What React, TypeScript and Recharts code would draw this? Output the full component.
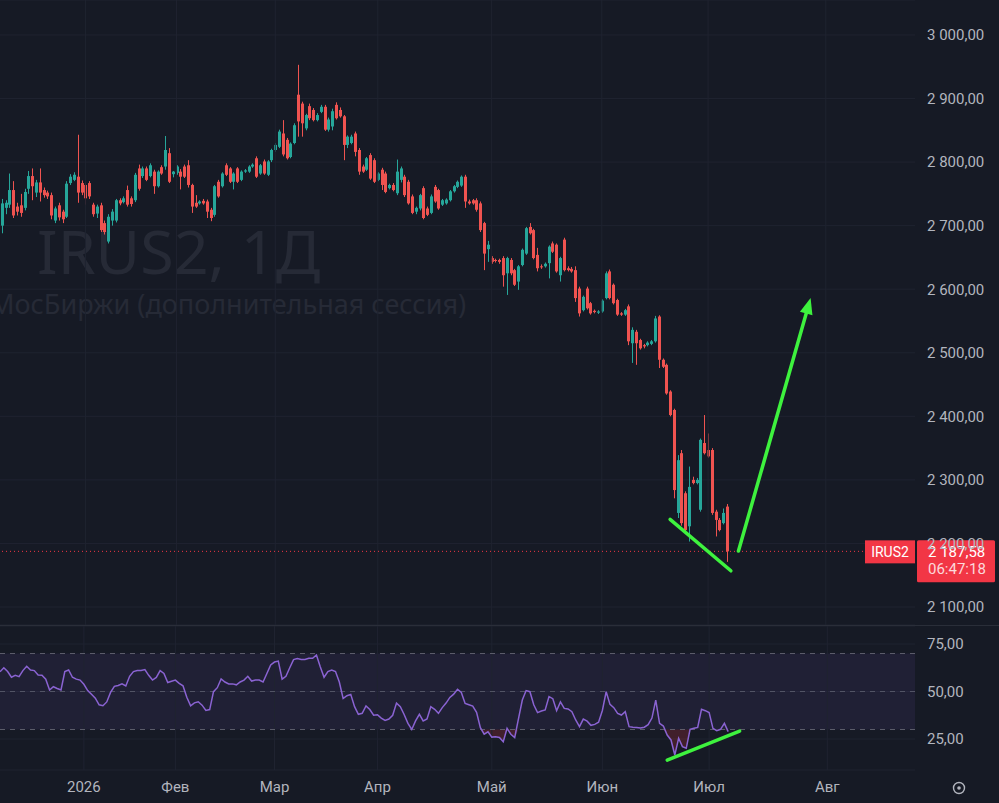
import React from 'react';
import {
  ComposedChart, Bar, Line, Area, XAxis, YAxis, CartesianGrid, ReferenceLine, ReferenceArea,
} from 'recharts';

// IRUS2 1Д, дневные свечи (янв–июл 2026)
const OPEN = [
  2700, 2728, 2733, 2756, 2730, 2732, 2728, 2758, 2778, 2752,
  2768, 2756, 2752, 2748, 2708, 2732, 2722, 2714, 2767, 2772,
  2777, 2767, 2764, 2767, 2733, 2719, 2732, 2704, 2675, 2708,
  2708, 2740, 2737, 2756, 2743, 2740, 2790, 2778, 2790, 2778,
  2785, 2762, 2792, 2793, 2814, 2781, 2783, 2785, 2793, 2795,
  2764, 2736, 2735, 2739, 2738, 2725, 2717, 2769, 2762, 2795,
  2790, 2769, 2790, 2772, 2785, 2785, 2793, 2806, 2782, 2801,
  2780, 2803, 2819, 2824, 2845, 2835, 2808, 2830, 2906, 2892,
  2853, 2888, 2882, 2866, 2879, 2887, 2851, 2856, 2890, 2882,
  2872, 2827, 2830, 2845, 2819, 2793, 2788, 2811, 2803, 2772,
  2788, 2782, 2759, 2764, 2751, 2772, 2777, 2769, 2746, 2722,
  2727, 2759, 2727, 2720, 2761, 2756, 2733, 2735, 2740, 2754,
  2761, 2763, 2777, 2738, 2740, 2740, 2735, 2704, 2663, 2649,
  2646, 2646, 2649, 2625, 2646, 2630, 2612, 2638, 2656, 2698,
  2693, 2654, 2636, 2636, 2641, 2672, 2670, 2622, 2678, 2633,
  2632, 2630, 2601, 2567, 2601, 2578, 2566, 2563, 2565, 2586,
  2628, 2607, 2583, 2562, 2560, 2573, 2515, 2533, 2520, 2512,
  2512, 2514, 2518, 2557, 2489, 2481, 2439, 2410, 2248, 2342,
  2279, 2227, 2300, 2295, 2253, 2358, 2347, 2347, 2250, 2237,
  2232, 2258,
];
const HIGH = [
  2742, 2740, 2782, 2770, 2736, 2750, 2758, 2786, 2790, 2772,
  2790, 2760, 2755, 2752, 2730, 2736, 2725, 2770, 2781, 2784,
  2843, 2771, 2768, 2770, 2736, 2733, 2736, 2708, 2718, 2726,
  2742, 2743, 2746, 2763, 2746, 2783, 2796, 2793, 2793, 2798,
  2788, 2787, 2795, 2841, 2822, 2786, 2795, 2789, 2796, 2803,
  2766, 2748, 2740, 2742, 2741, 2728, 2764, 2772, 2784, 2798,
  2792, 2784, 2792, 2787, 2789, 2795, 2798, 2809, 2797, 2804,
  2803, 2821, 2830, 2851, 2866, 2838, 2831, 2861, 2953, 2895,
  2876, 2892, 2885, 2877, 2890, 2890, 2870, 2884, 2894, 2886,
  2874, 2842, 2843, 2848, 2822, 2796, 2808, 2814, 2806, 2784,
  2791, 2785, 2766, 2767, 2804, 2793, 2780, 2772, 2749, 2730,
  2750, 2762, 2730, 2749, 2764, 2758, 2742, 2743, 2756, 2764,
  2771, 2779, 2780, 2741, 2742, 2743, 2738, 2706, 2676, 2652,
  2648, 2648, 2652, 2651, 2649, 2632, 2638, 2664, 2698, 2704,
  2695, 2665, 2639, 2642, 2669, 2675, 2672, 2651, 2681, 2636,
  2635, 2636, 2604, 2590, 2604, 2580, 2568, 2567, 2584, 2628,
  2631, 2609, 2585, 2564, 2569, 2576, 2540, 2536, 2522, 2514,
  2518, 2520, 2558, 2559, 2491, 2483, 2441, 2412, 2339, 2347,
  2282, 2321, 2305, 2303, 2365, 2402, 2373, 2350, 2253, 2240,
  2255, 2262,
];
const LOW = [
  2688, 2718, 2728, 2712, 2716, 2714, 2724, 2750, 2740, 2745,
  2738, 2744, 2742, 2710, 2704, 2708, 2704, 2712, 2764, 2770,
  2736, 2748, 2733, 2742, 2714, 2712, 2690, 2686, 2672, 2700,
  2705, 2732, 2735, 2730, 2730, 2737, 2755, 2775, 2770, 2776,
  2750, 2760, 2780, 2788, 2767, 2776, 2780, 2757, 2775, 2760,
  2720, 2728, 2733, 2733, 2712, 2707, 2714, 2744, 2760, 2778,
  2767, 2757, 2767, 2770, 2783, 2783, 2791, 2775, 2780, 2780,
  2778, 2800, 2816, 2822, 2809, 2804, 2806, 2828, 2840, 2840,
  2850, 2866, 2864, 2864, 2877, 2849, 2848, 2850, 2867, 2870,
  2803, 2822, 2828, 2809, 2780, 2783, 2786, 2772, 2767, 2770,
  2756, 2751, 2757, 2754, 2748, 2768, 2745, 2733, 2718, 2718,
  2724, 2710, 2715, 2718, 2736, 2725, 2731, 2733, 2738, 2752,
  2759, 2761, 2728, 2733, 2733, 2722, 2690, 2630, 2643, 2640,
  2642, 2640, 2604, 2591, 2622, 2605, 2599, 2636, 2654, 2686,
  2647, 2628, 2632, 2634, 2617, 2657, 2626, 2612, 2628, 2628,
  2626, 2580, 2557, 2565, 2568, 2560, 2562, 2561, 2563, 2584,
  2584, 2576, 2558, 2558, 2558, 2512, 2484, 2481, 2505, 2507,
  2510, 2512, 2516, 2476, 2476, 2434, 2400, 2271, 2240, 2228,
  2219, 2203, 2293, 2293, 2250, 2340, 2335, 2245, 2211, 2219,
  2230, 2171,
];
const CLOSE = [
  2735, 2736, 2756, 2716, 2722, 2720, 2753, 2778, 2762, 2768,
  2752, 2748, 2746, 2716, 2727, 2713, 2710, 2766, 2777, 2780,
  2752, 2752, 2743, 2746, 2718, 2730, 2693, 2690, 2714, 2722,
  2740, 2735, 2743, 2733, 2734, 2780, 2758, 2790, 2772, 2795,
  2762, 2785, 2782, 2819, 2769, 2785, 2793, 2777, 2777, 2764,
  2730, 2730, 2738, 2735, 2722, 2712, 2762, 2746, 2782, 2780,
  2769, 2782, 2769, 2785, 2787, 2793, 2796, 2777, 2795, 2782,
  2801, 2819, 2827, 2848, 2812, 2806, 2829, 2858, 2864, 2861,
  2874, 2869, 2866, 2874, 2887, 2851, 2867, 2880, 2869, 2872,
  2827, 2840, 2840, 2816, 2785, 2785, 2806, 2774, 2769, 2782,
  2764, 2753, 2764, 2756, 2785, 2790, 2748, 2735, 2720, 2728,
  2748, 2712, 2717, 2746, 2738, 2727, 2740, 2741, 2754, 2762,
  2769, 2777, 2738, 2735, 2735, 2725, 2693, 2656, 2670, 2643,
  2645, 2643, 2622, 2649, 2625, 2607, 2636, 2662, 2696, 2688,
  2649, 2633, 2635, 2640, 2667, 2659, 2628, 2649, 2630, 2630,
  2628, 2586, 2562, 2588, 2570, 2562, 2564, 2565, 2582, 2625,
  2586, 2578, 2560, 2560, 2567, 2518, 2536, 2515, 2507, 2510,
  2516, 2518, 2554, 2489, 2478, 2436, 2402, 2284, 2331, 2232,
  2221, 2289, 2295, 2300, 2363, 2342, 2337, 2248, 2237, 2221,
  2248, 2187.58,
];
// RSI(14)
const RSI = [
  60.4, 62.5, 60.5, 57.5, 58.5, 57.8, 61.0, 63.3, 61.3, 61.0,
  58.7, 58.5, 56.5, 50.8, 52.5, 51.6, 50.8, 60.5, 61.3, 57.5,
  56.5, 56.0, 53.8, 50.5, 48.5, 46.5, 43.0, 42.5, 44.5, 49.5,
  52.7, 53.2, 54.0, 52.9, 58.0, 60.5, 61.0, 61.0, 61.5, 58.5,
  56.0, 57.4, 61.0, 59.5, 54.7, 55.4, 56.0, 54.3, 53.0, 47.0,
  42.5, 44.0, 44.6, 42.8, 40.0, 40.5, 49.9, 52.0, 56.6, 55.0,
  54.0, 54.0, 53.5, 55.0, 56.0, 58.0, 55.5, 56.0, 56.0, 55.0,
  59.5, 64.0, 65.5, 66.0, 56.5, 58.0, 62.5, 66.8, 67.3, 66.9,
  66.8, 67.5, 67.5, 69.2, 63.0, 57.5, 60.5, 61.3, 60.5, 55.0,
  46.3, 47.8, 48.5, 42.0, 38.0, 38.5, 42.4, 40.5, 37.5, 37.8,
  36.0, 34.8, 35.5, 37.5, 43.9, 42.0, 37.9, 33.2, 30.0, 34.5,
  38.0, 34.5, 35.5, 42.0, 40.6, 38.5, 41.5, 43.9, 46.9, 48.6,
  51.2, 49.5, 43.7, 43.0, 42.3, 39.0, 31.0, 27.5, 28.8, 26.0,
  26.2, 25.8, 23.6, 30.6, 27.5, 25.7, 35.7, 45.5, 50.5, 49.9,
  43.0, 38.9, 39.7, 40.3, 47.3, 46.2, 39.9, 44.5, 41.1, 40.8,
  39.4, 35.0, 31.5, 35.5, 34.4, 32.2, 32.7, 33.8, 40.0, 49.9,
  43.2, 41.5, 38.5, 37.6, 39.4, 31.5, 31.2, 31.0, 30.8, 31.2,
  32.5, 36.0, 45.5, 33.2, 31.8, 27.1, 24.5, 16.6, 25.4, 21.0,
  20.1, 30.1, 30.6, 31.1, 40.6, 39.9, 38.9, 30.6, 29.4, 30.1,
  33.2, 28.9,
];

const SLOTS = 241; // бары + пустое место справа
const MONTH_TICKS = [22, 46, 72, 99, 129, 158, 186, 217];
const MONTH_LABELS = ['2026', 'Фев', 'Мар', 'Апр', 'Май', 'Июн', 'Июл', 'Авг'];
const PRICE_TICKS = [2100, 2200, 2300, 2400, 2500, 2600, 2700, 2800, 2900, 3000];
const RSI_TICKS = [25, 50, 75];
const LAST_PRICE = 2187.58;

const BG = '#161a25';
const GRID = '#1f2330';
const UP = '#26a69a';
const DOWN = '#ef5350';
const TAG = '#f23645';
const GREEN = '#3ef23e';
const TXT = '#b2b5be';
const FONT = 'Roboto, "Noto Sans", sans-serif';

const fmtPrice = (v: number) => {
  const s = v.toFixed(2).replace('.', ',');
  const [a, b] = s.split(',');
  return (a.length > 3 ? `${a.slice(0, a.length - 3)} ${a.slice(-3)}` : a) + ',' + b;
};

const Candle = (props: any) => {
  const { x, y, width, height, payload } = props;
  if (!payload || payload.o == null) return null;
  const { o, h, l, c } = payload;
  const top = Math.min(y, y + height);
  const span = Math.abs(height);
  const ppu = h === l ? 0 : span / (h - l);
  const yOf = (v: number) => top + (h - v) * ppu;
  const cx = Math.round(x + width / 2);
  const color = c >= o ? UP : DOWN;
  const bTop = yOf(Math.max(o, c));
  const bH = Math.max(1, Math.abs(yOf(o) - yOf(c)));
  return (
    <g>
      <line x1={cx + 0.5} x2={cx + 0.5} y1={top} y2={top + span} stroke={color} strokeWidth={1} />
      <rect x={cx - 1} y={bTop} width={3} height={bH} fill={color} />
    </g>
  );
};

const PriceTag = (props: any) => {
  const vb = props.viewBox || {};
  const y = vb.y;
  const right = vb.x + vb.width;
  return (
    <g fontFamily={FONT}>
      <rect x={right - 50} y={y - 11} width={50} height={23} fill={TAG} />
      <text x={right - 25} y={y + 5.5} textAnchor="middle" fill="#fff" fontSize={14}>IRUS2</text>
      <rect x={right + 2} y={y - 11} width={78} height={42} rx={1.5} fill={TAG} />
      <text x={right + 13} y={y + 6} fill="#fff" fontSize={15}>{fmtPrice(LAST_PRICE)}</text>
      <text x={right + 13} y={y + 22.5} fill="rgba(255,255,255,0.82)" fontSize={15}>06:47:18</text>
    </g>
  );
};

const GreenLine = (p: any) => (
  <line x1={p.x1} y1={p.y1} x2={p.x2} y2={p.y2} stroke={GREEN} strokeWidth={3.5} strokeLinecap="round" />
);

const GreenArrow = (p: any) => {
  const { x1, y1, x2, y2 } = p;
  const len = Math.hypot(x2 - x1, y2 - y1) || 1;
  const ux = (x2 - x1) / len;
  const uy = (y2 - y1) / len;
  const bx = x2 - ux * 16;
  const by = y2 - uy * 16;
  const px = -uy * 6.5;
  const py = ux * 6.5;
  return (
    <g>
      <line x1={x1} y1={y1} x2={bx} y2={by} stroke={GREEN} strokeWidth={3.5} strokeLinecap="round" />
      <polygon points={`${x2},${y2} ${bx + px},${by + py} ${bx - px},${by - py}`} fill={GREEN} />
    </g>
  );
};

export default function App() {
  const rows = Array.from({ length: SLOTS }, (_, i) =>
    i < CLOSE.length
      ? { i, o: OPEN[i], h: HIGH[i], l: LOW[i], c: CLOSE[i], range: [LOW[i], HIGH[i]], rsi: RSI[i] }
      : { i },
  );
  const axisTick = { fill: TXT, fontSize: 15, fontFamily: FONT };

  return (
    <div style={{ position: 'fixed', left: 0, top: 0, width: 999, height: 803, background: BG, overflow: 'hidden', fontFamily: FONT }}>
      <svg style={{ position: 'absolute', left: 0, top: 0 }} width={915} height={625}>
        <text x={37} y={274} fontSize={61} fill="#262a36" fontFamily='"Noto Sans", sans-serif'>IRUS2, 1Д</text>
        <text x={-10} y={314} fontSize={27} fill="#262a36" fontFamily='"Noto Sans", sans-serif'>МосБиржи (дополнительная сессия)</text>
      </svg>

      <div style={{ position: 'absolute', left: 0, top: 0 }}>
        <ComposedChart width={999} height={625} data={rows} margin={{ top: 0, right: 0, bottom: 0, left: 0 }}>
          <CartesianGrid stroke={GRID} vertical={false} />
          <XAxis dataKey="i" type="category" hide />
          <YAxis
            orientation="right" width={84} domain={[2071.7, 3055]} allowDataOverflow ticks={PRICE_TICKS} interval={0}
            tickFormatter={fmtPrice} axisLine={false} tickLine={false} tickSize={0} tickMargin={12} tick={axisTick}
          />
          {MONTH_TICKS.map((t) => <ReferenceLine key={t} x={t} stroke={GRID} />)}
          <Bar dataKey="range" shape={Candle} isAnimationActive={false} />
          <ReferenceLine y={LAST_PRICE} stroke={TAG} strokeDasharray="1 3" label={<PriceTag />} />
          <ReferenceLine segment={[{ x: 176, y: 2238 }, { x: 192, y: 2157 }]} shape={GreenLine} />
          <ReferenceLine segment={[{ x: 194, y: 2188 }, { x: 213, y: 2586 }]} shape={GreenArrow} />
        </ComposedChart>
      </div>

      <div style={{ position: 'absolute', left: 0, top: 625, width: 999, height: 1, background: '#2a2e39' }} />

      <div style={{ position: 'absolute', left: 0, top: 626 }}>
        <ComposedChart width={999} height={177} data={rows} margin={{ top: 0, right: 0, bottom: 0, left: 0 }}>
          <CartesianGrid stroke={GRID} vertical={false} />
          <XAxis
            dataKey="i" type="category" ticks={MONTH_TICKS} interval={0} height={33}
            tickFormatter={(v: number) => MONTH_LABELS[MONTH_TICKS.indexOf(v)] || ''}
            axisLine={false} tickLine={false} tickSize={6} tickMargin={5} tick={axisTick}
          />
          <YAxis
            orientation="right" width={84} domain={[8.68, 84.47]} allowDataOverflow ticks={RSI_TICKS} interval={0}
            tickFormatter={(v: number) => `${v},00`} axisLine={false} tickLine={false} tickSize={0} tickMargin={12} tick={axisTick}
          />
          {MONTH_TICKS.map((t) => <ReferenceLine key={t} x={t} stroke={GRID} />)}
          <ReferenceArea y1={30} y2={70} fill="#7e57c2" fillOpacity={0.1} stroke="none" />
          <ReferenceLine y={70} stroke="#787b86" strokeDasharray="5 5" strokeOpacity={0.7} />
          <ReferenceLine y={50} stroke="#787b86" strokeDasharray="5 5" strokeOpacity={0.55} />
          <ReferenceLine y={30} stroke="#787b86" strokeDasharray="5 5" strokeOpacity={0.7} />
          <Area
            dataKey={(d: any) => (d.rsi == null ? null : [Math.min(d.rsi, 30), 30])}
            stroke="none" fill="#f23645" fillOpacity={0.2} isAnimationActive={false} connectNulls={false}
          />
          <Line dataKey="rsi" stroke="#8a63d2" strokeWidth={1.5} dot={false} isAnimationActive={false} />
          <ReferenceLine segment={[{ x: 175, y: 13.9 }, { x: 194, y: 29.2 }]} shape={GreenLine} />
        </ComposedChart>
      </div>

      <svg style={{ position: 'absolute', left: 950, top: 779 }} width={18} height={18}>
        <circle cx={9} cy={9} r={5.5} fill="none" stroke={TXT} strokeWidth={1.4} />
        <circle cx={9} cy={9} r={1.8} fill={TXT} />
      </svg>
    </div>
  );
}
